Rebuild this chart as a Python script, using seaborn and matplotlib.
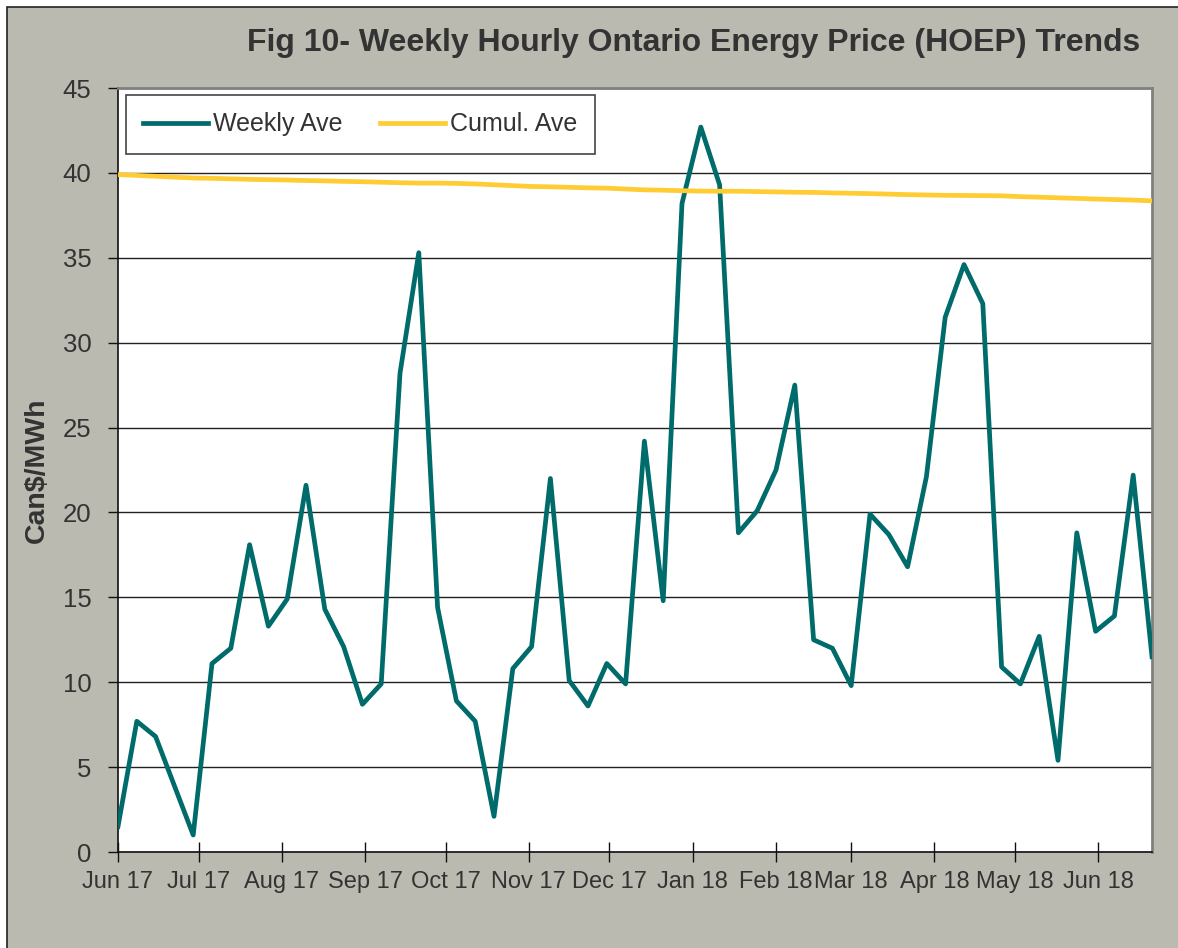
import matplotlib
matplotlib.use("Agg")
import matplotlib.pyplot as plt
import matplotlib.dates as mdates
from matplotlib.patches import Rectangle
import pandas as pd
import seaborn as sns

# Weekly HOEP values (Can$/MWh), Jun 2017 - Jun 2018
weekly_ave = [1.5, 7.7, 6.8, 3.9, 1.0, 11.1, 12.0, 18.1, 13.3, 14.9,
              21.6, 14.3, 12.1, 8.7, 9.9, 28.2, 35.3, 14.4, 8.9, 7.7,
              2.1, 10.8, 12.1, 22.0, 10.1, 8.6, 11.1, 9.9, 24.2, 14.8,
              38.2, 42.7, 39.3, 18.8, 20.1, 22.5, 27.5, 12.5, 12.0, 9.8,
              19.9, 18.7, 16.8, 22.1, 31.5, 34.6, 32.3, 10.9, 9.9, 12.7,
              5.4, 18.8, 13.0, 13.9, 22.2, 11.5]
cumul_ave = [39.9, 39.85, 39.8, 39.75, 39.7, 39.68, 39.65, 39.62, 39.6, 39.58,
             39.55, 39.53, 39.5, 39.48, 39.45, 39.42, 39.4, 39.4, 39.38, 39.35,
             39.3, 39.25, 39.2, 39.18, 39.15, 39.12, 39.1, 39.05, 39.0, 38.98,
             38.95, 38.93, 38.92, 38.92, 38.9, 38.88, 38.86, 38.85, 38.82, 38.8,
             38.78, 38.75, 38.72, 38.7, 38.68, 38.67, 38.66, 38.65, 38.6, 38.57,
             38.53, 38.5, 38.46, 38.43, 38.4, 38.35]
weeks = pd.date_range("2017-06-01", periods=len(weekly_ave), freq="7D")

df = pd.DataFrame({"week": weeks, "Weekly Ave": weekly_ave, "Cumul. Ave": cumul_ave})
df_long = df.melt(id_vars="week", var_name="series", value_name="price")

bg = "#BABAB0"
txt = "#333333"
plt.rcParams["font.family"] = ["Liberation Sans", "DejaVu Sans"]

fig = plt.figure(figsize=(11.78, 9.48), dpi=100)
fig.patch.set_facecolor("white")
# grey chart area with a thin dark border (top/left visible)
fig.patches.append(Rectangle((7 / 1178, -0.01), 1.02, 1 - 7 / 948 + 0.01,
                             transform=fig.transFigure, facecolor=bg,
                             edgecolor="#222222", linewidth=1.2, zorder=-10))

ax = fig.add_axes([118 / 1178, 1 - 852 / 948, (1152 - 118) / 1178, (852 - 88) / 948])
ax.set_facecolor("white")

sns.lineplot(data=df_long, x="week", y="price", hue="series",
             palette={"Weekly Ave": "#006B6B", "Cumul. Ave": "#FFCC33"},
             linewidth=3.4, ax=ax, zorder=3)

ax.set_ylim(0, 45)
ax.set_yticks(range(0, 46, 5))
ax.set_xlim(weeks[0], weeks[-1])
ax.xaxis.set_major_locator(mdates.MonthLocator())
ax.xaxis.set_major_formatter(mdates.DateFormatter("%b %y"))

ax.grid(axis="y", color="#222222", linewidth=1.0, zorder=1)
ax.grid(axis="x", visible=False)
ax.set_axisbelow(True)

for side in ["top", "right"]:
    ax.spines[side].set_color("#808080")
    ax.spines[side].set_linewidth(2)
for side in ["left", "bottom"]:
    ax.spines[side].set_color("#111111")
    ax.spines[side].set_linewidth(1.2)

ax.tick_params(axis="y", direction="out", length=7, width=1, colors="#111111",
               labelcolor=txt, labelsize=18.5, pad=12)
ax.tick_params(axis="x", direction="inout", length=14, width=1, colors="#111111",
               labelcolor=txt, labelsize=17, pad=7)

ax.set_xlabel("")
ax.set_ylabel("Can$/MWh", fontsize=20.5, fontweight="bold", color=txt, labelpad=9)

leg = ax.legend(loc="upper left", bbox_to_anchor=(0.0077, 0.991), ncol=2,
                fontsize=18, frameon=True, fancybox=False, framealpha=1,
                edgecolor="#444444", handlelength=2.6, handletextpad=0.2,
                columnspacing=1.5, borderpad=0.7, borderaxespad=0)
leg.get_frame().set_linewidth(1.2)
for t in leg.get_texts():
    t.set_color(txt)

fig.text(1140 / 1178, 1 - 43 / 948, "Fig 10- Weekly Hourly Ontario Energy Price (HOEP) Trends",
         ha="right", va="center", fontsize=23, fontweight="bold", color=txt)

fig.savefig("out.png", dpi=100, facecolor=fig.get_facecolor())
